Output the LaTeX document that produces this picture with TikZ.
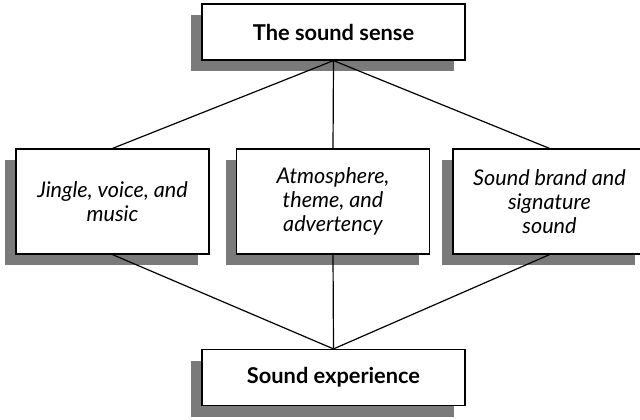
\documentclass[tikz,border=0pt]{standalone}
\usepackage{fontspec}
\setmainfont{Lato}
\usetikzlibrary{shadows}
\definecolor{shadowgray}{HTML}{7A7A7A}

\begin{document}
\begin{tikzpicture}[x=0.5pt,y=-0.5pt,
  box/.style={draw=black, line width=0.6pt, fill=white, align=center, inner sep=0pt,
    drop shadow={shadow xshift=-5.5pt, shadow yshift=-5.5pt, fill=shadowgray, opacity=1}},
  headbox/.style={box, minimum width=131.5pt, minimum height=28pt, font=\bfseries\fontsize{10.9}{12}\selectfont},
  factorbox/.style={box, minimum width=96.5pt, minimum height=52.5pt, font=\itshape\fontsize{10.8}{12}\selectfont},
  link/.style={line width=0.6pt}]
\useasboundingbox (0,0) rectangle (640,419);
\node[headbox] (sense) at (333.5,32) {The sound sense};
\node[factorbox] (jingle) at (112.5,201.5) {Jingle, voice, and\\music};
\node[factorbox] (atmos) at (333,201.5) {Atmosphere,\\theme, and\\advertency};
\node[factorbox] (brand) at (549.5,201.5) {Sound brand and\\signature\\sound};
\node[headbox] (experience) at (333.5,377.5) {Sound experience};
\draw[link] (sense.south) -- (jingle.north);
\draw[link] (sense.south) -- (atmos.north);
\draw[link] (sense.south) -- (brand.north);
\draw[link] (jingle.south) -- (experience.north);
\draw[link] (atmos.south) -- (experience.north);
\draw[link] (brand.south) -- (experience.north);
\end{tikzpicture}
\end{document}
